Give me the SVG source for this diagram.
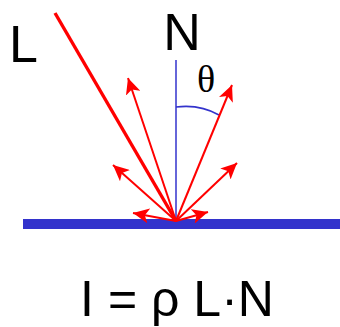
<svg xmlns="http://www.w3.org/2000/svg" width="340" height="327" viewBox="0 0 340 327">
<style>
.ray{stroke:#ff0000;stroke-width:2;fill:none;marker-end:url(#ah)}
.lbl{font-family:"Liberation Sans",Arial,sans-serif;fill:#000}
</style>
<defs>
<marker id="ah" markerUnits="userSpaceOnUse" markerWidth="17" markerHeight="15" refX="16" refY="7.5" orient="auto">
<path d="M0,0 L16,7.5 L0,15 L4,7.5 Z" fill="#ff0000"/>
</marker>
</defs>
<g id="surface"><rect x="23" y="219" width="317" height="10" fill="#3333cc"/></g>
<g id="normal"><line x1="176" y1="60" x2="176" y2="222" stroke="#3333cc" stroke-width="1.5"/></g>
<g id="angle"><path d="M176,107 Q200,104 219,115" stroke="#3333cc" stroke-width="1.6" fill="none"/>
<text x="206" y="92" font-family="'Liberation Serif',serif" font-size="38" text-anchor="middle">θ</text></g>
<g id="connectors">
<line x1="55" y1="13" x2="176" y2="221" stroke="#ff0000" stroke-width="3.4"/>
<line class="ray" x1="176" y1="221" x2="128" y2="78"/>
<line class="ray" x1="176" y1="221" x2="232" y2="85"/>
<line class="ray" x1="176" y1="221" x2="113" y2="165"/>
<line class="ray" x1="176" y1="221" x2="237" y2="163"/>
<line class="ray" x1="176" y1="221" x2="133" y2="213"/>
<line class="ray" x1="176" y1="221" x2="208" y2="212"/>
</g>
<g id="L"><text class="lbl" x="9" y="62" font-size="52">L</text></g>
<g id="N"><text class="lbl" x="182" y="50" font-size="52" text-anchor="middle">N</text></g>
<g id="equation"><text class="lbl" x="177" y="316" font-size="50" text-anchor="middle">I = ρ L·N</text></g>
</svg>
